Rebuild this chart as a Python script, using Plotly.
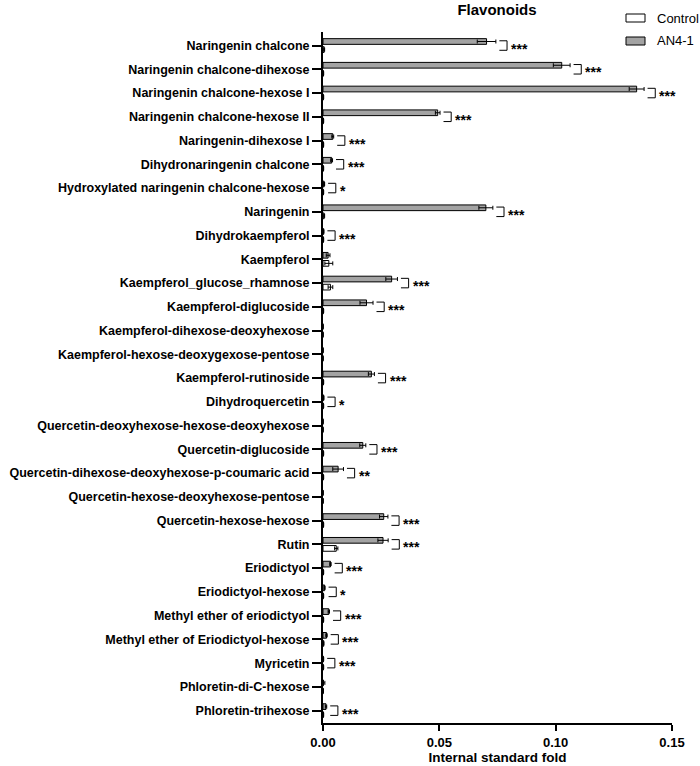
import plotly.graph_objects as go

categories = [
    "Naringenin chalcone",
    "Naringenin chalcone-dihexose",
    "Naringenin chalcone-hexose I",
    "Naringenin chalcone-hexose II",
    "Naringenin-dihexose I",
    "Dihydronaringenin chalcone",
    "Hydroxylated naringenin chalcone-hexose",
    "Naringenin",
    "Dihydrokaempferol",
    "Kaempferol",
    "Kaempferol_glucose_rhamnose",
    "Kaempferol-diglucoside",
    "Kaempferol-dihexose-deoxyhexose",
    "Kaempferol-hexose-deoxygexose-pentose",
    "Kaempferol-rutinoside",
    "Dihydroquercetin",
    "Quercetin-deoxyhexose-hexose-deoxyhexose",
    "Quercetin-diglucoside",
    "Quercetin-dihexose-deoxyhexose-p-coumaric acid",
    "Quercetin-hexose-deoxyhexose-pentose",
    "Quercetin-hexose-hexose",
    "Rutin",
    "Eriodictyol",
    "Eriodictyol-hexose",
    "Methyl ether of eriodictyol",
    "Methyl ether of Eriodictyol-hexose",
    "Myricetin",
    "Phloretin-di-C-hexose",
    "Phloretin-trihexose",
]

an41_mean = [0.0703, 0.1026, 0.1348, 0.0493, 0.0042, 0.0037, 0.0005, 0.0700,
             0.0003, 0.0022, 0.0295, 0.0187, 0.0, 0.0, 0.0208, 0.0003, 0.0,
             0.0171, 0.0065, 0.0, 0.0261, 0.0258, 0.0032, 0.0007, 0.0025,
             0.0015, 0.0002, 0.0002, 0.0013]
an41_sd = [0.0040, 0.0036, 0.0032, 0.0010, 0.0004, 0.0004, 0.0002, 0.0030,
           0.0001, 0.0008, 0.0025, 0.0028, 0.0, 0.0, 0.0013, 0.0001, 0.0,
           0.0013, 0.0023, 0.0, 0.0018, 0.0022, 0.0003, 0.0002, 0.0003,
           0.0003, 0.0001, 0.0006, 0.0003]

control_mean = [0.0005, 0.0002, 0.0002, 0.0002, 0.0002, 0.0002, 0.0002, 0.0005,
                0.0002, 0.0025, 0.0032, 0.0002, 0.0, 0.0, 0.0002, 0.0002, 0.0,
                0.0002, 0.0002, 0.0, 0.0002, 0.0057, 0.0002, 0.0002, 0.0002,
                0.0003, 0.0002, 0.0001, 0.0002]
control_sd = [0.0002, 0.0001, 0.0001, 0.0001, 0.0001, 0.0001, 0.0001, 0.0002,
              0.0001, 0.0017, 0.0010, 0.0001, 0.0, 0.0, 0.0001, 0.0001, 0.0,
              0.0001, 0.0001, 0.0, 0.0001, 0.0007, 0.0001, 0.0001, 0.0001,
              0.0001, 0.0001, 0.0001, 0.0001]

significance = ["***", "***", "***", "***", "***", "***", "*", "***", "***", "",
                "***", "***", "", "", "***", "*", "", "***", "**", "",
                "***", "***", "***", "*", "***", "***", "***", "", "***"]

series_names = ["Control", "AN4-1"]
series_colors = ["white", "#a3a3a3"]

x_ticks = [0.0, 0.05, 0.10, 0.15]
x_ticklabels = ["0.00", "0.05", "0.10", "0.15"]

FONT = "Liberation Sans, Arial, sans-serif"
W, H = 700, 766
ML, MR, MT, MB = 323, 28, 32, 43
PW, PH = W - ML - MR, H - MT - MB


def px_x(p):
    """window pixel x -> paper coordinate"""
    return (p - ML) / PW


def px_y(p):
    """window pixel y -> paper coordinate"""
    return (H - MB - p) / PH


pos = list(range(len(categories)))

fig = go.Figure()
fig.add_trace(go.Bar(
    name=series_names[0], y=pos, x=control_mean, orientation="h",
    offset=0.05, width=0.24, showlegend=False,
    marker=dict(color=series_colors[0], line=dict(color="black", width=1)),
    error_x=dict(type="data", array=control_sd, color="black", thickness=1, width=2),
))
fig.add_trace(go.Bar(
    name=series_names[1], y=pos, x=an41_mean, orientation="h",
    offset=-0.29, width=0.24, showlegend=False,
    marker=dict(color=series_colors[1], line=dict(color="black", width=1)),
    error_x=dict(type="data", array=an41_sd, color="black", thickness=1, width=2),
))

shapes = []
annotations = []
for i, sig in enumerate(significance):
    if not sig:
        continue
    end = max(an41_mean[i] + an41_sd[i], control_mean[i] + control_sd[i])
    x0 = end + 0.0015
    x1 = x0 + 0.0033
    shapes.append(dict(
        type="path", xref="x", yref="y",
        path=f"M {x0},{i - 0.2} L {x1},{i - 0.2} L {x1},{i + 0.2} L {x0},{i + 0.2}",
        line=dict(color="black", width=1),
    ))
    annotations.append(dict(
        x=x1, y=i, xref="x", yref="y", text=sig, showarrow=False,
        xanchor="left", yanchor="middle", xshift=2, yshift=-3,
        font=dict(family=FONT, size=14, color="black", weight="bold"),
    ))

# legend drawn manually (boxes + labels)
legend_rows_y = [18, 41]
for name, color, cy in zip(series_names, series_colors, legend_rows_y):
    shapes.append(dict(
        type="rect", xref="paper", yref="paper",
        x0=px_x(626), x1=px_x(645), y0=px_y(cy + 4), y1=px_y(cy - 4),
        fillcolor=color, line=dict(color="black", width=1),
    ))
    annotations.append(dict(
        x=px_x(655), y=px_y(cy), xref="paper", yref="paper", text=name,
        showarrow=False, xanchor="left", yanchor="middle",
        font=dict(family=FONT, size=13, color="black"),
    ))

fig.update_layout(
    width=W, height=H,
    margin=dict(l=ML, r=MR, t=MT, b=MB, autoexpand=False),
    plot_bgcolor="white", paper_bgcolor="white",
    barmode="overlay", showlegend=False,
    font=dict(family=FONT, color="black"),
    title=dict(text="Flavonoids", x=px_x(497), xref="paper", xanchor="center",
               y=1 - 10 / H, yref="container", yanchor="middle", pad=dict(t=0, b=0),
               font=dict(family=FONT, size=15, color="black", weight="bold")),
    shapes=shapes,
    annotations=annotations,
    xaxis=dict(range=[0, 0.15], tickvals=x_ticks, ticktext=x_ticklabels,
               showline=True, linecolor="black", linewidth=2,
               ticks="outside", ticklen=6, tickwidth=2, tickcolor="black",
               showgrid=False, zeroline=False, automargin=False,
               tickfont=dict(family=FONT, size=13, color="black", weight="bold"),
               title=dict(text="Internal standard fold", standoff=0,
                          font=dict(family=FONT, size=13.5, color="black", weight="bold"))),
    yaxis=dict(range=[28.52, -0.57], tickvals=pos, ticktext=categories,
               showline=True, linecolor="black", linewidth=2,
               ticks="outside", ticklen=9, tickwidth=2, tickcolor="black",
               showgrid=False, zeroline=False, automargin=False,
               tickfont=dict(family=FONT, size=12.5, color="black", weight="bold")),
)

# remove the browser's default 8px page margin so the figure fills the window exactly
fig.write_html(
    "out.html",
    config={"displayModeBar": False},
    post_script="document.body.style.margin='0';document.body.style.overflow='hidden';",
)
